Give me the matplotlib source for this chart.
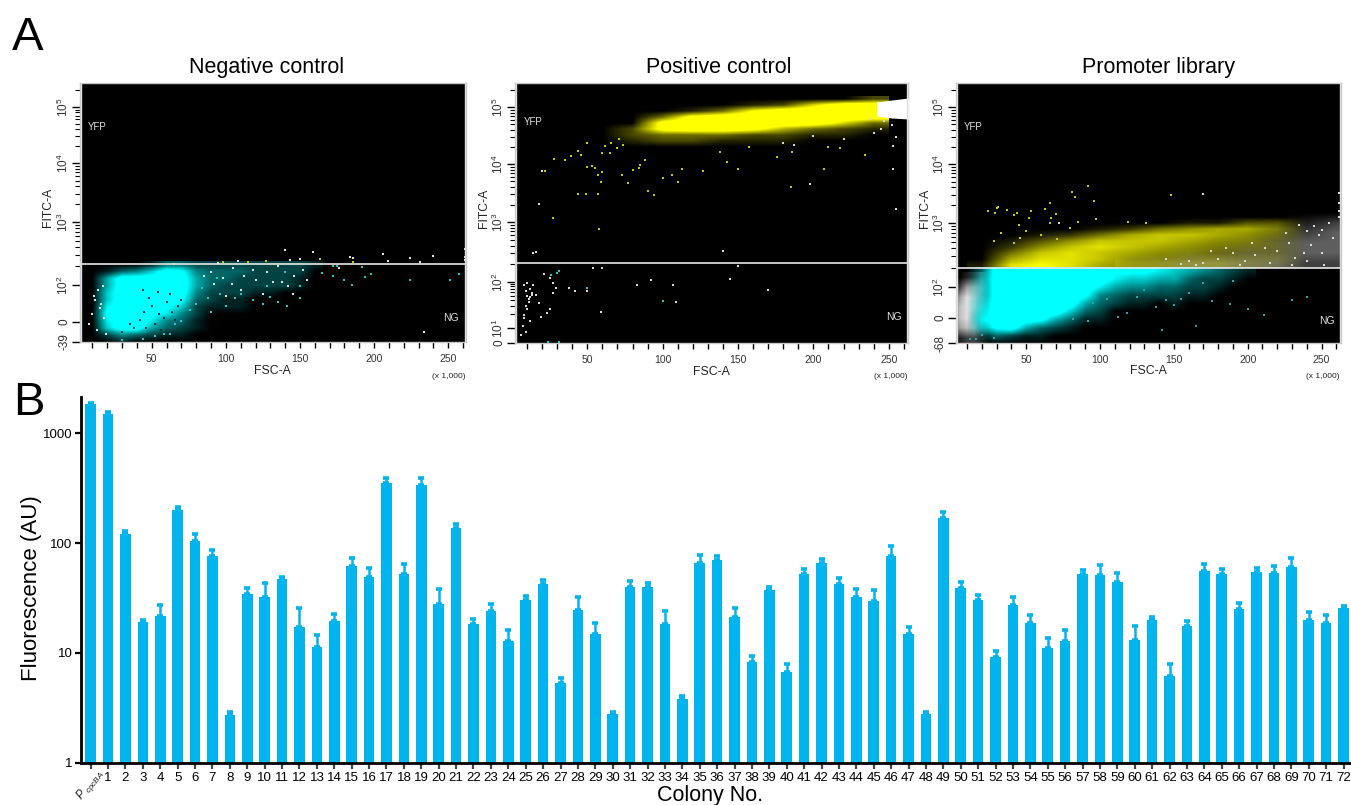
import numpy as np
import matplotlib
matplotlib.use('Agg')
import matplotlib.pyplot as plt
from matplotlib.colors import LinearSegmentedColormap, to_rgba

plt.rcParams['font.family'] = ['Liberation Sans', 'DejaVu Sans']
plt.rcParams['mathtext.default'] = 'regular'
plt.rcParams['mathtext.fontset'] = 'custom'
plt.rcParams['mathtext.rm'] = 'Liberation Sans'
plt.rcParams['mathtext.it'] = 'Liberation Sans:italic'

W, H = 1351, 805

#bar data, panel B
colonies = [str(i) for i in range(1, 73)]
fluo = [1850, 1500, 122, 19, 21.7, 201, 104, 76, 2.7, 34.5, 32.4, 47, 17.3, 11.3, 19.6, 61.3, 49, 352, 52,
        338, 27.8, 136, 18.2, 24, 12.8, 30.2, 42.6, 5.29, 24.7, 15, 2.8, 40, 40, 18.2, 3.78, 65.7, 70, 21.1,
        8.3, 37.3, 6.7, 52, 65.7, 42.6, 32.2, 30, 76.6, 15, 2.8, 169, 38.6, 30.2, 9.1, 27.2, 18.9, 11.1, 12.8,
        51.8, 50.7, 44, 13.1, 19.9, 6.2, 17.4, 56, 52.2, 25, 54.4, 53.2, 60.4, 19.9, 18.6, 25.9]
fluo_top = [1900, 1550, 128, 19.8, 27.5, 215, 120, 87, 2.88, 39, 43, 49.5, 25.8, 14.6, 22.8, 73.5, 59, 395, 65,
            388, 38, 148, 20.5, 27.7, 16.3, 32.8, 46.5, 5.85, 32, 18.7, 2.92, 45.5, 43.7, 24, 4.08, 78, 75.5,
            25.8, 9.45, 40, 7.9, 57.8, 71.3, 48.5, 38.4, 37.2, 95, 17.1, 2.92, 190, 44.3, 33.8, 10.4, 32, 22.1,
            13.6, 16.3, 57, 62.8, 53, 17.4, 21.4, 7.9, 19.6, 65, 58.6, 28.7, 59, 62.4, 72.8, 23.4, 22.1, 27]

neg_yticks = [0, 20, 57, 120, 179, 235]
neg_ylabels = ['-39', '0', '$10^{2}$', '$10^{3}$', '$10^{4}$', '$10^{5}$']
pos_yticks = [0, 15, 61, 121, 179, 236]
pos_ylabels = ['0', '$10^{1}$', '$10^{2}$', '$10^{3}$', '$10^{4}$', '$10^{5}$']
lib_yticks = [0, 25, 56, 120, 179, 236]
lib_ylabels = ['-68', '0', '$10^{2}$', '$10^{3}$', '$10^{4}$', '$10^{5}$']

#negative control, event density 0-9 read by eye, rows from top channel down
neg_fsc = [10, 20, 30, 40, 50, 60, 70, 80, 90, 100, 110, 120, 130, 140, 150, 160]
neg_chan = [77, 70, 63, 56, 49, 42, 35, 28, 21, 14, 7, 0]
neg_cyan = [[0, 0, 0, 0, 1, 3, 3, 2, 2, 2, 2, 2, 2, 2, 2, 1],
            [0, 1, 3, 4, 6, 9, 8, 4, 3, 3, 3, 2, 2, 2, 2, 0],
            [0, 5, 9, 9, 9, 9, 9, 5, 3, 3, 2, 2, 2, 2, 1, 0],
            [0, 5, 9, 9, 9, 9, 9, 5, 3, 2, 2, 2, 2, 2, 1, 0],
            [0, 6, 9, 9, 9, 9, 9, 4, 2, 2, 2, 1, 1, 0, 0, 0],
            [0, 6, 9, 9, 9, 9, 8, 3, 2, 1, 1, 0, 0, 0, 0, 0],
            [0, 7, 9, 9, 9, 8, 6, 2, 1, 1, 1, 0, 0, 0, 0, 0],
            [0, 8, 9, 9, 8, 7, 4, 2, 0, 0, 0, 0, 0, 0, 0, 0],
            [0, 7, 9, 9, 7, 4, 3, 1, 0, 0, 0, 0, 0, 0, 0, 0],
            [0, 6, 9, 9, 5, 3, 2, 1, 0, 0, 0, 0, 0, 0, 0, 0],
            [0, 2, 4, 3, 2, 1, 1, 0, 0, 0, 0, 0, 0, 0, 0, 0],
            [0, 0, 1, 0, 0, 0, 0, 0, 0, 0, 0, 0, 0, 0, 0, 0]]
neg_white_x = [140, 158.6, 205.9, 240, 224.3, 183.8, 150, 143.3, 108.5, 95, 115, 261, 261, 261, 231, 209.7, 186,
               128, 112, 120, 132, 146, 152, 104, 98, 90, 110, 125, 138, 142, 155, 176, 100, 105, 118, 135, 14,
               12, 16, 10, 18, 8, 13, 15, 11, 234, 17, 19, 145, 85, 92]
neg_white_y = [92, 90, 88, 86, 84, 85, 83, 82, 81, 79, 80, 93, 85, 82, 80, 81, 84, 70, 66, 62, 60, 66, 72, 58, 64,
               70, 52, 48, 60, 56, 62, 74, 46, 74, 72, 76, 52, 42, 38, 28, 24, 18, 12, 34, 46, 10, 56, 8, 48, 66, 58]
neg_dot_x = [172, 180, 185, 194, 198, 224, 251, 257, 150, 150, 141, 135, 130, 125, 90, 80, 70, 58, 175, 192,
             165, 110, 118, 128, 100, 106, 84, 76, 66, 62, 52, 44, 30, 96, 88, 94, 172, 140]
neg_dot_y = [66, 62, 57, 65, 68, 62, 62, 68, 56, 44, 36, 40, 45, 38, 30, 38, 21, 8, 76, 75, 69, 48, 42, 56, 36, 44,
             54, 32, 18, 8, 6, 3, 2, 48, 44, 64, 76, 70]
neg_yellow_x = [65, 98, 115, 127, 163.6, 186]
neg_yellow_y = [78, 80, 80, 81, 83, 80]
neg_black_x = [45, 50, 55, 60, 48, 52, 58, 64, 42, 46, 62, 68, 38, 44, 54, 30, 35, 70, 66, 56]
neg_black_y = [30, 36, 28, 40, 44, 18, 24, 30, 22, 14, 48, 36, 14, 52, 50, 10, 18, 42, 22, 12]

#positive control
pos_fsc = [60, 80, 100, 120, 140, 160, 180, 200, 220, 240]
pos_chan = [244, 238, 232, 226, 220, 214, 208, 202, 196]
pos_yellow = [[0, 0, 0, 0, 0, 0, 0, 0, 0, 2],
              [0, 0, 0, 0, 0, 1, 2, 6, 9, 9],
              [0, 0, 0, 1, 3, 7, 9, 9, 9, 9],
              [0, 0, 3, 8, 9, 9, 9, 9, 9, 9],
              [0, 0, 8, 9, 9, 9, 9, 9, 6, 3],
              [0, 2, 8, 9, 9, 8, 5, 3, 2, 1],
              [0, 2, 3, 3, 3, 2, 2, 1, 1, 0],
              [0, 1, 2, 2, 1, 1, 1, 0, 0, 0],
              [0, 0, 0, 0, 0, 0, 0, 0, 0, 0]]
pos_end_x = [242, 252, 263]
pos_end_lo = [227, 225, 224]
pos_end_hi = [241, 243, 245]
pos_dot_x = [22, 28, 35, 39, 44, 46, 50, 53, 55, 57, 59, 60, 65, 70, 73, 77, 80, 84, 88, 90, 94, 100, 106, 110,
             113, 127, 138, 143, 150, 157, 176, 186, 207, 210, 218, 234, 185, 58, 44, 49, 57, 27, 62, 66, 71,
             74, 85, 50, 60]
pos_dot_y = [172, 184, 183, 187, 192, 188, 176, 177, 175, 168, 161, 171, 190, 195, 168, 160, 173, 175, 183, 152,
             148, 165, 168, 161, 174, 172, 191, 181, 174, 196, 186, 191, 174, 196, 195, 188, 156, 114, 149, 149,
             149, 125, 197, 200, 204, 198, 178, 200, 190]
pos_white_x = [20, 18, 16, 14, 140, 198, 253, 253, 255, 255, 245, 247, 240, 252, 220, 200, 187, 180, 238,
               8, 9, 10, 11, 12, 9, 10, 11, 13, 12, 8, 10, 14, 13, 16, 18, 21, 23, 25, 27, 29, 38, 42, 50, 54, 60,
               59, 83, 92, 107, 109, 145, 150, 170, 7, 9, 12, 8, 6, 19, 25, 27]
pos_white_y = [172, 139, 91, 90, 92, 159, 174, 197, 134, 206, 214, 222, 210, 218, 204, 207, 198, 200, 224,
               58, 52, 47, 44, 54, 37, 34, 41, 50, 46, 28, 60, 58, 48, 48, 40, 69, 30, 65, 60, 55, 55, 52, 52, 75,
               75, 31, 58, 63, 58, 41, 64, 77, 53, 17, 11, 22, 25, 8, 26, 34, 50]
pos_cyan_x = [26, 30, 31, 50, 100, 24, 31]
pos_cyan_y = [68, 70, 72, 55, 42, 0.6, 0.6]

#promoter library
lib_y_fsc = [20, 40, 60, 80, 100, 120, 140, 160, 180, 200, 220, 240]
lib_y_chan = [126, 120, 114, 108, 102, 96, 90, 84, 78]
lib_yellow = [[0, 0, 0, 0, 0, 0, 0, 0, 0, 0, 0, 0],
              [0, 0, 0, 0, 0, 0, 0, 1, 1, 3, 3, 0],
              [0, 0, 0, 0, 1, 2, 4, 5, 6, 6, 4, 0],
              [0, 0, 1, 2, 4, 6, 7, 7, 6, 5, 3, 0],
              [0, 1, 3, 5, 7, 7, 7, 6, 5, 4, 2, 0],
              [0, 2, 5, 7, 8, 7, 6, 5, 4, 3, 2, 0],
              [0, 4, 7, 8, 7, 6, 5, 4, 3, 2, 2, 0],
              [0, 6, 8, 8, 7, 5, 4, 3, 3, 2, 2, 0],
              [1, 8, 9, 8, 6, 5, 4, 3, 3, 2, 1, 0]]
lib_c_fsc = [10, 20, 30, 40, 50, 60, 70, 80, 90, 100, 110, 120, 130, 140, 150, 160, 170, 180, 190, 200]
lib_c_chan = [71, 63, 55, 47, 39, 31, 23, 15, 7, -1]
lib_cyan = [[0, 3, 9, 9, 9, 9, 9, 9, 9, 9, 8, 8, 8, 7, 6, 5, 4, 3, 2, 1],
            [0, 4, 9, 9, 9, 9, 9, 9, 9, 9, 7, 6, 6, 5, 5, 3, 2, 2, 1, 0],
            [0, 4, 9, 9, 9, 9, 9, 9, 9, 7, 5, 4, 4, 3, 3, 2, 2, 1, 0, 0],
            [0, 4, 9, 9, 9, 9, 9, 9, 8, 4, 3, 2, 2, 2, 2, 1, 1, 0, 0, 0],
            [0, 5, 9, 9, 9, 9, 9, 9, 5, 3, 2, 1, 1, 0, 1, 0, 0, 0, 0, 0],
            [0, 6, 9, 9, 9, 9, 9, 6, 3, 2, 0, 0, 0, 0, 0, 0, 0, 0, 0, 0],
            [0, 7, 9, 9, 9, 8, 5, 3, 1, 1, 0, 0, 0, 0, 0, 0, 0, 0, 0, 0],
            [0, 5, 8, 9, 5, 3, 2, 1, 0, 0, 0, 0, 0, 0, 0, 0, 0, 0, 0, 0],
            [0, 1, 3, 2, 1, 1, 0, 0, 0, 0, 0, 0, 0, 0, 0, 0, 0, 0, 0, 0],
            [0, 0, 0, 0, 0, 0, 0, 0, 0, 0, 0, 0, 0, 0, 0, 0, 0, 0, 0, 0]]
lib_w_fsc = [0, 5, 10, 15, 20, 25]
lib_w_chan = [65, 55, 45, 35, 25, 15, 5]
lib_white = [[0, 0, 1, 1, 2, 0],
             [0, 2, 5, 5, 4, 0],
             [0, 5, 7, 6, 4, 0],
             [0, 6, 7, 6, 4, 0],
             [0, 6, 7, 5, 3, 0],
             [0, 5, 6, 5, 2, 0],
             [0, 1, 2, 2, 1, 0]]
lib_r_fsc = [120, 140, 160, 180, 200, 220, 240, 260]
lib_r_chan = [130, 120, 110, 100, 90, 80]
lib_right = [[0, 0, 0, 0, 0, 0, 0, 0],
             [0, 0, 0, 0, 0, 0, 1, 2],
             [0, 0, 0, 0, 0, 1, 2, 3],
             [0, 0, 0, 0, 1, 2, 3, 3],
             [0, 0, 1, 1, 2, 2, 3, 3],
             [1, 2, 3, 3, 3, 3, 2, 2]]
lib_dot_x = [24, 30, 31, 29, 37, 42, 44, 52, 53, 63, 66, 67, 70, 81, 83, 92, 96, 148, 131, 119, 97, 85, 80, 71,
             66, 45, 42, 28, 33, 46, 50, 60]
lib_dot_y = [132, 135, 136, 130, 133, 128, 130, 125, 132, 134, 140, 125, 129, 151, 146, 157, 142, 148, 120, 121,
             124, 121, 115, 104, 120, 118, 100, 102, 110, 105, 112, 108]
lib_white2_x = [170, 262, 262, 262, 262, 235, 240, 245, 250, 255, 258, 248, 243, 238, 232, 228, 220, 212, 205, 198,
                190, 180, 170, 160, 250, 240, 230, 252, 226, 215, 203, 195, 185, 175, 165, 155, 145, 72]
lib_white2_y = [149, 150, 140, 132, 126, 118, 112, 117, 113, 120, 105, 108, 98, 90, 85, 100, 92, 95, 88, 82, 90, 84,
                80, 82, 90, 82, 78, 78, 110, 80, 100, 78, 95, 92, 78, 79, 84, 120]
lib_mark_x = [200, 188, 176, 211, 165, 142, 112, 118, 145, 160, 150, 240, 230, 190, 130, 105, 95, 82, 20, 28, 16,
              12, 92, 125, 138, 155, 170]
lib_mark_y = [34, 39, 42, 28, 17, 13, 26, 30, 43, 50, 38, 46, 43, 62, 53, 44, 40, 24, 8, 5, 4, 4, 22, 46, 36, 44, 60]


def fx(x):
    return x / W


def fy(y):
    return 1 - y / H


def px_axes(left, top, right, bottom):
    return fig.add_axes([fx(left), fy(bottom), (right - left) / W, (bottom - top) / H])


def minor_ticks(yticks, start):
    #log spaced minor ticks inside each decade
    out = []
    steps = np.log10(np.arange(2, 10))
    for lo, hi in zip(yticks[start:-1], yticks[start + 1:]):
        out.extend(lo + (hi - lo) * steps)
    out.extend(yticks[-1] + (yticks[-1] - yticks[-2]) * steps[:4])
    return out


def flow_panel(box, xlim, ylim, yticks, ylabels, gate, start):
    ax = px_axes(*box)
    ax.set_facecolor('black')
    ax.set_xticks([50, 100, 150, 200, 250])
    ax.set_xticks(np.arange(10, 261, 10), minor=True)
    ax.set_yticks(yticks)
    ax.set_yticklabels(ylabels, rotation=90, va='center', fontsize=8.5, color='#333333')
    ax.set_yticks([t for t in minor_ticks(yticks, start) if t < ylim[1]], minor=True)
    ax.tick_params(axis='x', which='major', length=4.5, width=1, labelsize=7.5, labelcolor='#333333', pad=4)
    ax.tick_params(axis='x', which='minor', length=4, width=1)
    ax.tick_params(axis='y', which='major', length=6, width=1, pad=0.5)
    ax.tick_params(axis='y', which='minor', length=3.5, width=0.8)
    for side in ax.spines.values():
        side.set_color('#c8c8c8')
        side.set_linewidth(1)
    ax.axhline(gate, color='#e8e8e8', linewidth=1.2, zorder=6)
    ax.axvline(xlim[0] + 0.9, color='#dddddd', linewidth=1, zorder=6)
    ax.axvline(xlim[1] - 0.6, color='#dddddd', linewidth=1, zorder=6)
    return ax


def density(ax, fsc, chan, grid, color, zorder, top=9):
    #soft cloud from the density table, fades to see-through at 0
    cmap = LinearSegmentedColormap.from_list('c', [to_rgba(color, 0), to_rgba(color, 1)])
    dx = fsc[1] - fsc[0]
    dy = chan[0] - chan[1]
    ax.imshow(grid, cmap=cmap, vmin=0, vmax=top, aspect='auto', interpolation='bilinear', zorder=zorder,
              extent=(fsc[0] - dx / 2, fsc[-1] + dx / 2, chan[-1] - dy / 2, chan[0] + dy / 2))


def dots(ax, x, y, color, zorder=5, s=2):
    ax.scatter(x, y, s=s, c=color, marker='s', linewidths=0, zorder=zorder)


fig = plt.figure(figsize=(W / 100, H / 100), dpi=100)

#panel A
ax1 = flow_panel((80, 83, 466, 342), (1.6, 262), (0, 259), neg_yticks, neg_ylabels, 78, 2)
density(ax1, neg_fsc, neg_chan, neg_cyan, '#00ffff', 3, top=7.5)
dots(ax1, neg_black_x, neg_black_y, '#003838', s=1.5)
dots(ax1, neg_dot_x, neg_dot_y, '#20c8c8')
dots(ax1, neg_white_x, neg_white_y, '#e0e0e0')
dots(ax1, neg_yellow_x, neg_yellow_y, '#c8c800')
ax1.set_xlim(1.6, 262)
ax1.set_ylim(0, 259)

ax2 = flow_panel((515, 83, 908, 343), (2, 262.8), (0, 260), pos_yticks, pos_ylabels, 80, 1)
density(ax2, pos_fsc, pos_chan, pos_yellow, '#ffff00', 3, top=7)
ax2.fill_between(pos_end_x, pos_end_lo, pos_end_hi, color='white', linewidth=0, zorder=4)
dots(ax2, pos_dot_x, pos_dot_y, '#c8c800')
dots(ax2, pos_white_x, pos_white_y, '#d8d8d8')
dots(ax2, pos_cyan_x, pos_cyan_y, '#20c8c8')
ax2.set_xlim(2, 262.8)
ax2.set_ylim(0, 260)

ax3 = flow_panel((956, 83, 1340.7, 343), (2.5, 263), (0, 260), lib_yticks, lib_ylabels, 75.3, 2)
density(ax3, lib_r_fsc, lib_r_chan, lib_right, '#ffffff', 2, top=8)
density(ax3, lib_y_fsc, lib_y_chan, lib_yellow, '#ffff00', 3)
density(ax3, lib_w_fsc, lib_w_chan, lib_white, '#ffffff', 3, top=8)
density(ax3, lib_c_fsc, lib_c_chan, lib_cyan, '#00ffff', 4, top=7.5)
dots(ax3, lib_dot_x, lib_dot_y, '#c8c800')
dots(ax3, lib_white2_x, lib_white2_y, '#d8d8d8')
dots(ax3, lib_mark_x, lib_mark_y, '#20a8a8')
ax3.set_xlim(2.5, 263)
ax3.set_ylim(0, 260)

#flow labels, one row per panel: title, FITC-A, FSC-A, x1000, YFP, NG
flow_text = [
    ('Negative control', 267, 48, 207, 272, 371, 465, 376, 97, 127, 451, 318),
    ('Positive control', 719, 484, 208, 711, 372, 908, 376, 533, 122, 894, 317),
    ('Promoter library', 1158, 925, 208, 1148, 371, 1340, 376, 973, 127, 1327, 321),
]
for row in flow_text:
    fig.text(fx(row[1]), fy(73), row[0], fontsize=15.5, ha='center', va='baseline')
    fig.text(fx(row[2]), fy(row[3]), 'FITC-A', fontsize=8.8, rotation=90, ha='center', va='center', color='#222222')
    fig.text(fx(row[4]), fy(row[5]), 'FSC-A', fontsize=8.8, ha='center', va='center', color='#222222')
    fig.text(fx(row[6]), fy(row[7]), '(x 1,000)', fontsize=6, ha='right', va='center', color='#222222')
    fig.text(fx(row[8]), fy(row[9]), 'YFP', fontsize=7, ha='center', va='center', color='#e0e0e0', zorder=10)
    fig.text(fx(row[10]), fy(row[11]), 'NG', fontsize=7.5, ha='center', va='center', color='#e0e0e0', zorder=10)

fig.text(fx(28), fy(50), 'A', fontsize=34, ha='center', va='baseline')
fig.text(fx(29), fy(415), 'B', fontsize=34, ha='center', va='baseline')

#panel B
ax = px_axes(81, 397, 1351, 762.7)
pos = np.arange(len(fluo))
vals = np.array(fluo)
ax.bar(pos, vals, width=0.61, color='#00b5ee', zorder=2)
ax.errorbar(pos, vals, yerr=[np.zeros(len(vals)), np.array(fluo_top) - vals], fmt='none', ecolor='#00b5ee',
            elinewidth=1.8, capsize=2.3, capthick=2.6, zorder=2)
ax.set_yscale('log')
ax.set_ylim(1, 2140)
ax.set_xlim(-0.557, 72.43)
ax.set_yticks([1, 10, 100, 1000])
ax.set_yticklabels(['1', '10', '100', '1000'], fontsize=9.5)
ax.minorticks_off()
ax.set_xticks(pos)
ax.set_xticklabels([''] + colonies, fontsize=9.5)
ax.tick_params(axis='y', length=4, width=1.6, pad=2)
ax.tick_params(axis='x', length=4, width=1.6, pad=3, color='#444444')
ax.spines['top'].set_visible(False)
ax.spines['right'].set_visible(False)
ax.spines['left'].set_linewidth(2)
ax.spines['bottom'].set_linewidth(2)
fig.text(fx(90), fy(785), r'$\mathit{P}_{\ \mathit{cpcBA}}$', fontsize=8.5, rotation=52, ha='center', va='center', color='#222222')
fig.text(fx(32), fy(588), 'Fluorescence (AU)', fontsize=16, rotation=90, ha='center', va='center')
fig.text(fx(710), fy(795), 'Colony No.', fontsize=15.5, ha='center', va='center')

plt.savefig('out.png', dpi=100)
